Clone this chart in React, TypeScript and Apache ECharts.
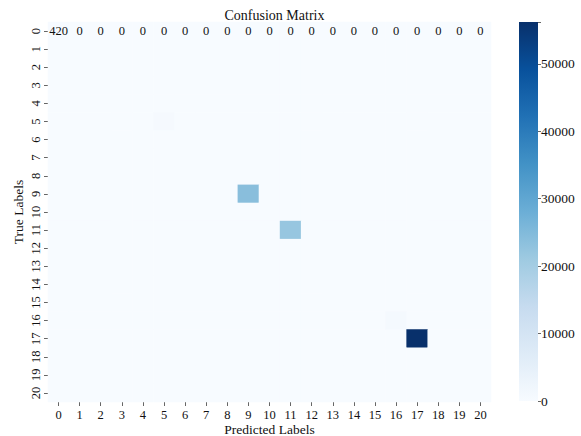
import React, { useEffect, useRef } from "react";
import * as echarts from "echarts";

const labels = ["0","1","2","3","4","5","6","7","8","9","10","11","12","13","14","15","16","17","18","19","20"];
// first row of the matrix (true label 0)
const firstRow = [420, 0, 0, 0, 0, 0, 0, 0, 0, 0, 0, 0, 0, 0, 0, 0, 0, 0, 0, 0, 0];
// non-zero diagonal cells of other rows
const diagIndex = [5, 9, 11, 16, 17];
const diagValues = [700, 24000, 22000, 800, 56200];
const colorTicks = [0, 10000, 20000, 30000, 40000, 50000];
const blues = ["#f7fbff", "#deebf7", "#c6dbef", "#9ecae1", "#6baed6", "#4292c6", "#2171b5", "#08519c", "#08306b"];

const FONT = "Liberation Serif";

export default function App() {
  const ref = useRef<HTMLDivElement>(null);
  useEffect(() => {
    if (!ref.current) return;
    const chart = echarts.init(ref.current, null, { renderer: "svg" });
    const data: number[][] = [];
    for (let y = 0; y < labels.length; y++) {
      for (let x = 0; x < labels.length; x++) {
        let v = 0;
        if (y === 0) v = firstRow[x];
        else if (x === y) {
          const k = diagIndex.indexOf(y);
          if (k >= 0) v = diagValues[k];
        }
        data.push([x, y, v]);
      }
    }
    const maxV = Math.max(...diagValues, ...firstRow);
    chart.setOption({
      animation: false,
      backgroundColor: "#ffffff",
      textStyle: { fontFamily: FONT },
      title: {
        text: "Confusion Matrix",
        left: 269.5,
        top: 3,
        textAlign: "center",
        textStyle: { fontFamily: FONT, fontSize: 14, fontWeight: "normal", color: "#111" },
      },
      grid: [
        { left: 48, right: 90, top: 22, bottom: 34, containLabel: false, outerBoundsMode: "none" },
        { left: 519, width: 19, top: 22, bottom: 35, containLabel: false, outerBoundsMode: "none" },
      ],
      xAxis: [
        {
          type: "category",
          data: labels,
          gridIndex: 0,
          name: "Predicted Labels",
          nameLocation: "middle",
          nameGap: 20,
          nameMoveOverlap: false,
          nameTextStyle: { fontFamily: FONT, fontSize: 13.5, color: "#111" },
          axisLine: { show: false },
          axisTick: { show: true, alignWithLabel: true, length: 4, lineStyle: { color: "#666" } },
          axisLabel: { fontFamily: FONT, fontSize: 12.5, color: "#111", margin: 6, interval: 0 },
          splitArea: { show: false },
        },
        { type: "category", data: ["c"], gridIndex: 1, show: false },
      ],
      yAxis: [
        {
          type: "category",
          data: labels,
          gridIndex: 0,
          inverse: true,
          name: "True Labels",
          nameLocation: "middle",
          nameGap: 23,
          nameMoveOverlap: false,
          nameRotate: 90,
          nameTextStyle: { fontFamily: FONT, fontSize: 13.5, color: "#111" },
          axisLine: { show: false },
          axisTick: { show: true, alignWithLabel: true, length: 4, lineStyle: { color: "#666" } },
          axisLabel: { fontFamily: FONT, fontSize: 12.5, color: "#111", rotate: 90, margin: 6, interval: 0 },
        },
        {
          type: "value",
          gridIndex: 1,
          min: 0,
          max: maxV,
          interval: 10000,
          position: "right",
          splitLine: { show: false },
          axisLine: { show: false },
          axisTick: { show: true, length: 3, lineStyle: { color: "#666" } },
          axisLabel: {
            fontFamily: FONT,
            fontSize: 13.5,
            color: "#111",
            margin: 3,
            formatter: (v: number) => (colorTicks.indexOf(v) >= 0 ? String(v) : ""),
          },
        },
      ],
      visualMap: {
        show: false,
        type: "continuous",
        min: 0,
        max: maxV,
        seriesIndex: 0,
        inRange: { color: blues },
      },
      series: [
        {
          type: "heatmap",
          xAxisIndex: 0,
          yAxisIndex: 0,
          data,
          label: {
            show: true,
            fontFamily: FONT,
            fontSize: 12.5,
            color: "#111",
            formatter: (p: any) => (p.value[1] === 0 ? String(p.value[2]) : ""),
          },
          itemStyle: { borderWidth: 0 },
          emphasis: { disabled: true },
        },
        {
          type: "bar",
          xAxisIndex: 1,
          yAxisIndex: 1,
          data: [maxV],
          barWidth: "100%",
          itemStyle: {
            color: new echarts.graphic.LinearGradient(
              0, 1, 0, 0,
              blues.map((c, i) => ({ offset: i / (blues.length - 1), color: c }))
            ),
          },
          silent: true,
        },
      ],
    });
    return () => chart.dispose();
  }, []);
  return <div ref={ref} style={{ position: "fixed", left: 0, top: 0, width: 581, height: 436 }} />;
}
